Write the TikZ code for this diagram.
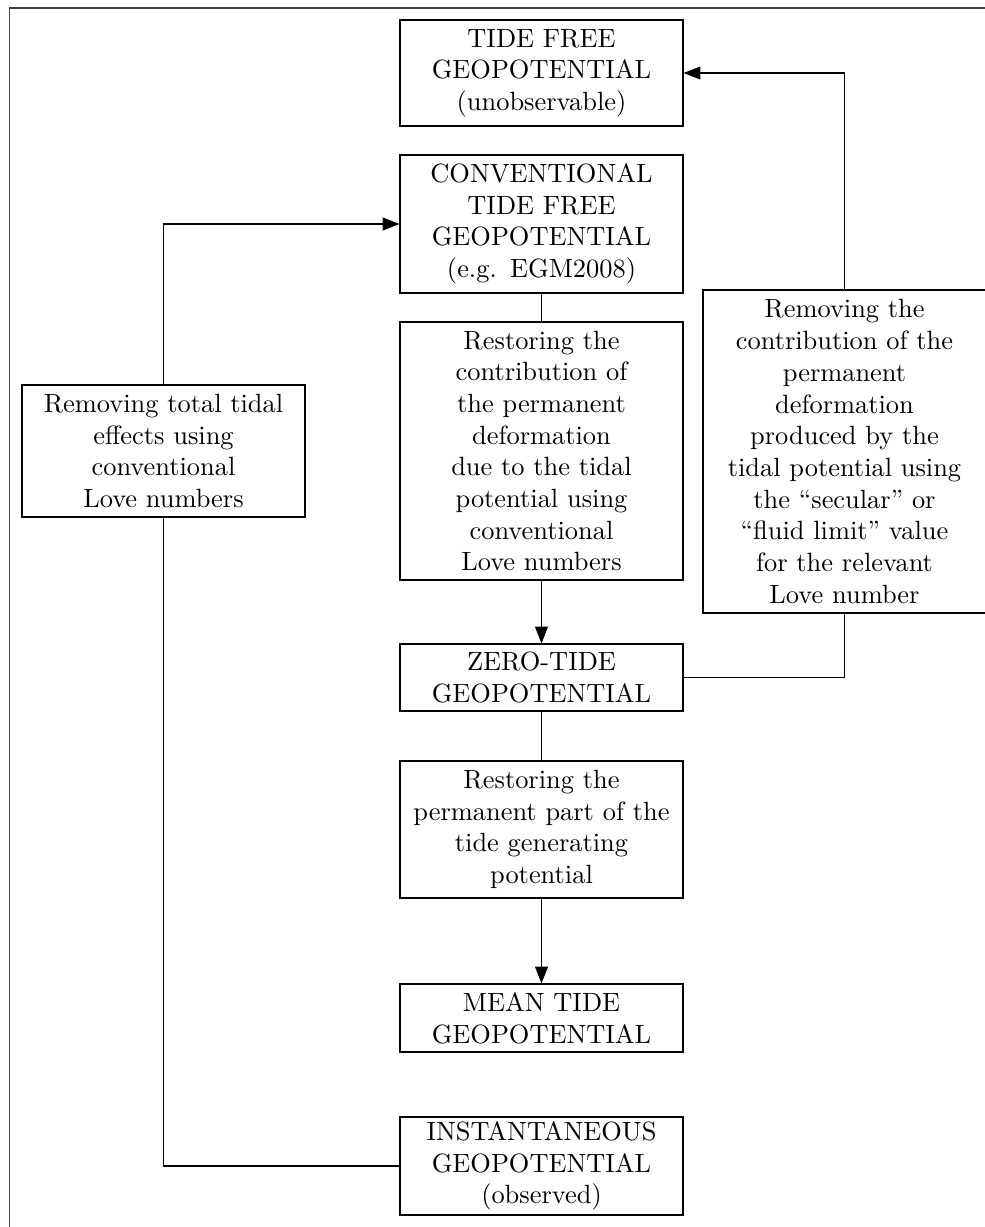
\documentclass[tikz,border=0pt]{standalone}
\usetikzlibrary{arrows.meta}
\begin{document}
\begin{tikzpicture}[x=0.3788pt,y=-0.3788pt,
  box/.style={draw, align=center, text width=100pt, inner xsep={(283*0.3788pt-100pt)/2}, inner ysep=0pt, font=\fontsize{10}{12}\selectfont},
  arr/.style={-{Triangle[length=6.4pt,width=4.9pt]}}]
\useasboundingbox (0,0) rectangle (985,1227);
\clip (0,0) rectangle (985,1227);
\draw[black!75] (9.5,8) rectangle (1000,1240);
\node[box, minimum height={106*0.3788pt}] (tf) at (541.5,73) {TIDE FREE\\GEOPOTENTIAL\\(unobservable)};
\node[box, minimum height={138*0.3788pt}] (ctf) at (541.5,224) {CONVENTIONAL\\TIDE FREE\\GEOPOTENTIAL\\(e.g. EGM2008)};
\node[box, minimum height={258*0.3788pt}] (rest1) at (541.5,451) {Restoring the\\contribution of\\the permanent\\deformation\\due to the tidal\\potential using\\conventional\\Love numbers};
\node[box, minimum height={67*0.3788pt}] (zt) at (541.5,677.5) {ZERO-TIDE\\GEOPOTENTIAL};
\node[box, minimum height={137*0.3788pt}] (rest2) at (541.5,829.5) {Restoring the\\permanent part of the\\tide generating\\potential};
\node[box, minimum height={68*0.3788pt}] (mt) at (541.5,1018) {MEAN TIDE\\GEOPOTENTIAL};
\node[box, minimum height={98*0.3788pt}] (inst) at (541.5,1166) {INSTANTANEOUS\\GEOPOTENTIAL\\(observed)};
\node[box, minimum height={132*0.3788pt}] (left) at (163.5,451) {Removing total tidal\\effects using\\conventional\\Love numbers};
\node[box, minimum height={323*0.3788pt}] (right) at (844.5,451.5) {Removing the\\contribution of the\\permanent\\deformation\\produced by the\\tidal potential using\\the ``secular'' or\\``fluid limit'' value\\for the relevant\\Love number};
\draw (ctf.south) -- (rest1.north);
\draw[arr] (rest1.south) -- (zt.north);
\draw (zt.south) -- (rest2.north);
\draw[arr] (rest2.south) -- (mt.north);
\draw (inst.west) -| (left.south);
\draw[arr] (left.north) |- (ctf.west);
\draw (zt.east) -| (right.south);
\draw[arr] (right.north) |- (tf.east);
\end{tikzpicture}
\end{document}
